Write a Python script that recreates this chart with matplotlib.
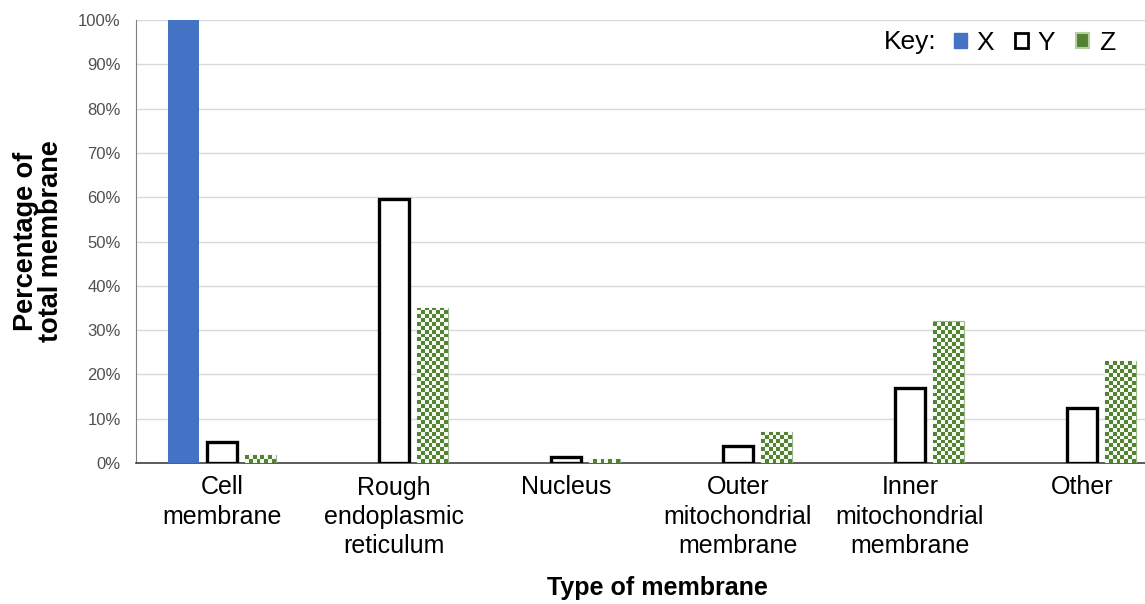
import numpy as np
import matplotlib
matplotlib.use("Agg")
import matplotlib.pyplot as plt
from matplotlib.colors import ListedColormap
from matplotlib.patches import Patch

plt.rcParams['font.family'] = ['Liberation Sans', 'DejaVu Sans']

categories = ['Cell\nmembrane', 'Rough\nendoplasmic\nreticulum', 'Nucleus',
              'Outer\nmitochondrial\nmembrane', 'Inner\nmitochondrial\nmembrane', 'Other']
x_vals = [100, 0, 0, 0, 0, 0]
y_vals = [4.7, 59.6, 1.3, 3.8, 17, 12.4]
z_vals = [1.8, 35, 1.0, 7, 32, 23]
yticks = [0, 10, 20, 30, 40, 50, 60, 70, 80, 90, 100]

blue = '#4472C4'
green = '#548235'
light = '#f4faef'

fig = plt.figure(figsize=(11.45, 6.04), dpi=100)
ax = fig.add_axes([136 / 1145, 141 / 604, 1032 / 1145, 443 / 604])

pos = np.arange(len(categories))
w = 0.175
off = 0.224

ax.bar(pos - off, x_vals, w, color=blue, zorder=3)
ax.bar(pos, y_vals, w, color='white', edgecolor='black', linewidth=2.4, zorder=3)
zbars = ax.bar(pos + off, z_vals, w, color=light, edgecolor='#9db58a', linewidth=0.8, zorder=3)

# checkerboard fill for Z bars
cmap = ListedColormap([light, green])
cell = 0.88
for r in zbars:
    bx, by = r.get_x(), r.get_y()
    bw, bh = r.get_width(), r.get_height()
    nx = 8
    ny = max(1, int(round(bh / cell)))
    board = (np.add.outer(np.arange(ny), np.arange(nx)) % 2).astype(float)
    im = ax.imshow(board, cmap=cmap, extent=[bx, bx + bw, by, by + ny * cell],
                   origin='lower', aspect='auto', interpolation='nearest', zorder=3.5)
    im.set_clip_path(r)

ax.set_xlim(-0.5, len(categories) - 0.5)
ax.set_ylim(0, 100)
ax.set_yticks(yticks)
ax.set_yticklabels([f'{t}%' for t in yticks], color='#505050', fontsize=12)
ax.set_xticks(pos)
ax.set_xticklabels(categories, fontsize=18, linespacing=1.28)
ax.tick_params(axis='both', length=0)
ax.tick_params(axis='x', pad=9)
ax.tick_params(axis='y', pad=11)

ax.grid(axis='y', color='#d9d9d9', linewidth=1, zorder=0)
for s in ['top', 'right']:
    ax.spines[s].set_visible(False)
ax.spines['left'].set_color('#7f7f7f')
ax.spines['bottom'].set_color('#404040')
ax.spines['bottom'].set_linewidth(1.2)

ax.set_ylabel('Percentage of\ntotal membrane', fontsize=19.5, fontweight='bold',
              linespacing=0.95, labelpad=10)
ax.set_xlabel('Type of membrane', fontsize=18, fontweight='bold')
ax.xaxis.set_label_coords((657 - 136) / 1032, -0.255)

handles = [Patch(facecolor=blue, edgecolor=blue),
           Patch(facecolor='white', edgecolor='black', linewidth=2),
           Patch(facecolor=green, edgecolor='#b5cfa0', linewidth=1.5)]
leg = ax.legend(handles, ['X', 'Y', 'Z'], ncol=3, loc='center left',
                bbox_to_anchor=(954 / 1145, 1 - 43 / 604), bbox_transform=fig.transFigure,
                frameon=False, fontsize=19, handlelength=0.5, handleheight=0.5,
                handletextpad=0.35, columnspacing=0.8, borderpad=0, borderaxespad=0)
fig.text(884 / 1145, 1 - 42 / 604, 'Key:', fontsize=19, va='center', ha='left')

fig.savefig('out.png', dpi=100)
